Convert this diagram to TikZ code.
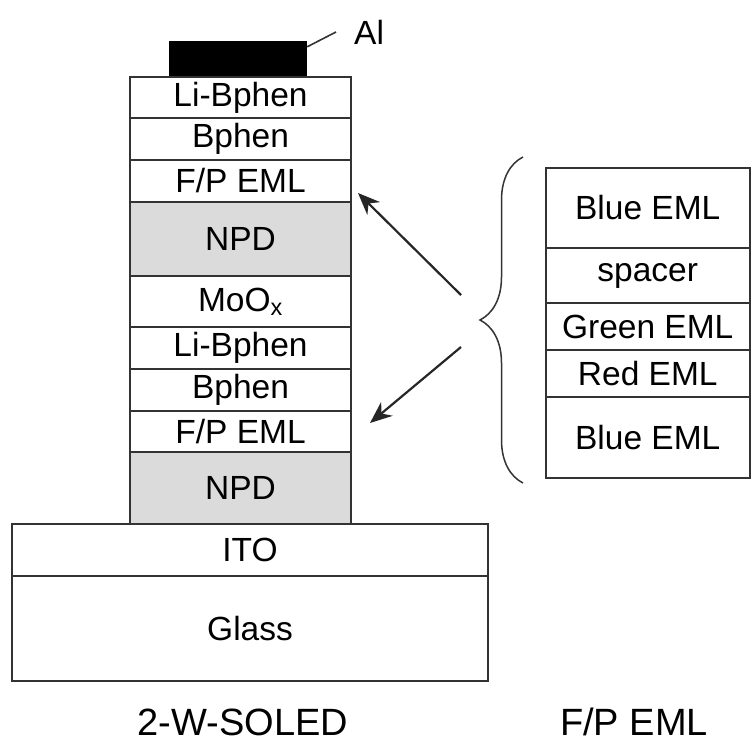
\documentclass[tikz,border=0pt]{standalone}
\usepackage{fontspec}
\setmainfont{Liberation Sans}
\usetikzlibrary{arrows.meta,decorations.pathreplacing}

\begin{document}
\begin{tikzpicture}[x=1pt,y=-1pt,
  layer/.style={draw=black!80,line width=2pt,inner sep=0pt,font=\fontsize{33.5}{36}\selectfont},
  npdlayer/.style={layer,fill=black!14},
  caption/.style={anchor=base,inner sep=0pt,font=\fontsize{38}{40}\selectfont}]
\useasboundingbox (0,0) rectangle (751,746);
% 2-W-SOLED stack
\node[fill=black,minimum width=138pt,minimum height=36pt] (alpad) at (238,59) {};
\node[layer,minimum width=221pt,minimum height=41pt] (libphena) at (240.5,97.5) {Li-Bphen};
\node[layer,minimum width=221pt,minimum height=42pt] (bphena) at (240.5,139) {Bphen};
\node[layer,minimum width=221pt,minimum height=42pt] (fpemla) at (240.5,181) {F/P EML};
\node[npdlayer,minimum width=221pt,minimum height=74pt] (npda) at (240.5,239) {NPD};
\node[layer,minimum width=221pt,minimum height=51pt] (moox) at (240.5,301.5) {MoO\textsubscript{x}};
\node[layer,minimum width=221pt,minimum height=42pt] (libphenb) at (240.5,348) {Li-Bphen};
\node[layer,minimum width=221pt,minimum height=42pt] (bphenb) at (240.5,390) {Bphen};
\node[layer,minimum width=221pt,minimum height=41pt] (fpemlb) at (240.5,431.5) {F/P EML};
\node[npdlayer,minimum width=221pt,minimum height=72pt] (npdb) at (240.5,488) {NPD};
\node[layer,minimum width=476pt,minimum height=52pt] (ito) at (250,550) {ITO};
\node[layer,minimum width=476pt,minimum height=105pt] (glass) at (250,628.5) {Glass};
% Al label
\node[inner sep=0pt,anchor=west,font=\fontsize{33.5}{36}\selectfont] (allabel) at (354,32) {Al};
\coordinate (alend) at (336,32);
\draw[line width=1.6pt,black!80] ([yshift=-6pt]alpad.north east) -- (alend);
% F/P EML stack
\node[layer,minimum width=203.5pt,minimum height=80pt] (bluea) at (647.75,208) {Blue EML};
\node[layer,minimum width=203.5pt,minimum height=55pt] (spacer) at (647.75,275.5) {spacer};
\node[layer,minimum width=203.5pt,minimum height=47pt] (green) at (647.75,326.5) {Green EML};
\node[layer,minimum width=203.5pt,minimum height=47pt] (red) at (647.75,373.5) {Red EML};
\node[layer,minimum width=203.5pt,minimum height=81pt] (blueb) at (647.75,437.5) {Blue EML};
% brace
\coordinate (bracebot) at (523,483);
\coordinate (bracetop) at (523,157);
\draw[line width=1.5pt,black!80,decorate,decoration={brace,amplitude=43pt}] (bracebot) -- (bracetop);
% arrows
\coordinate (taila) at (461,295);
\coordinate (tipa) at (358,193);
\coordinate (tailb) at (461,347);
\coordinate (tipb) at (370,423);
\draw[line width=2.2pt,black!85,-{Stealth[length=22pt,width=18pt]}] (taila) -- (tipa);
\draw[line width=2.2pt,black!85,-{Stealth[length=22pt,width=18pt]}] (tailb) -- (tipb);
% captions
\node[caption] (soled) at (243,735) {2-W-SOLED};
\node[caption] (fpcap) at (634,735) {F/P EML};
\end{tikzpicture}
\end{document}
